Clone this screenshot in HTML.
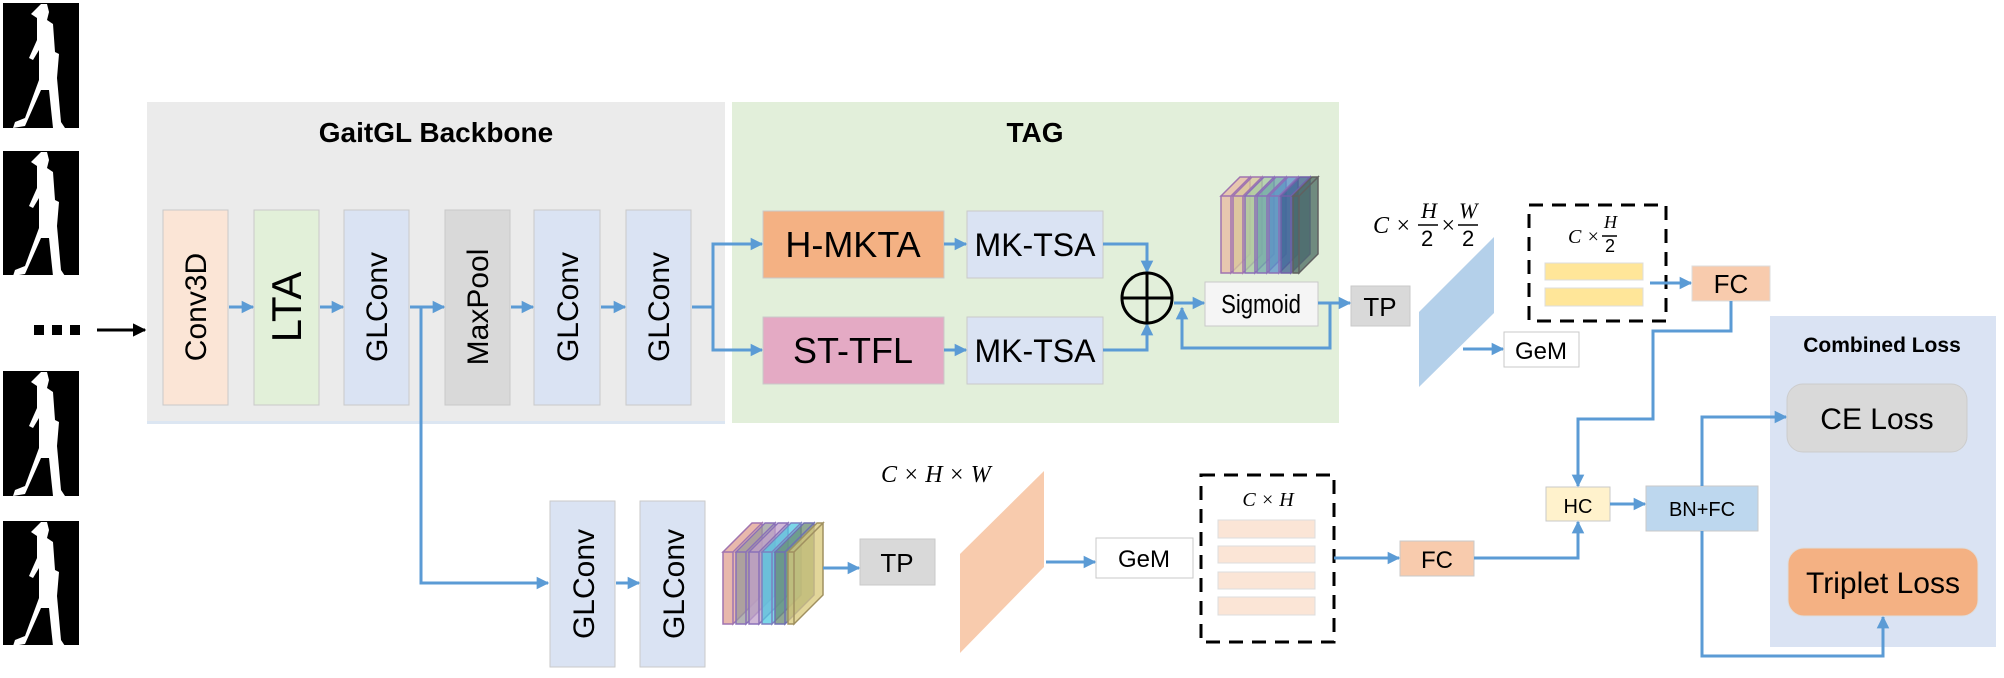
<!DOCTYPE html>
<html><head><meta charset="utf-8"><style>
html,body{margin:0;padding:0;background:#fff;}
svg{display:block;}
text{font-family:"Liberation Sans",sans-serif;fill:#000;}
.m{font-family:"Liberation Serif",serif;font-style:italic;}
</style></head><body>
<svg width="2004" height="678" viewBox="0 0 2004 678" xmlns="http://www.w3.org/2000/svg">
<defs>
<marker id="a" viewBox="0 0 10 10" refX="9" refY="5" markerWidth="4.2" markerHeight="4.2" orient="auto"><path d="M0,0L10,5L0,10z" fill="#5b9bd5"/></marker>
<marker id="k" viewBox="0 0 10 10" refX="9" refY="5" markerWidth="4.5" markerHeight="4.5" orient="auto"><path d="M0,0L10,5L0,10z" fill="#000"/></marker>
<g id="walker"><path d="M38,4 l6,0 2,8 -2,8 6,4 2,28 4,2 -2,24 4,44 4,6 -12,0 -4,-38 -8,0 -16,36 -12,2 2,-6 10,-4 14,-38 0,-30 -6,10 -4,-2 8,-18 0,-22 -6,-4 z" fill="#fff"/></g>
</defs>
<!-- silhouettes -->
<rect x="3" y="3" width="76" height="125" fill="#000"/>
<use href="#walker" x="3" y="0"/>
<rect x="3" y="151" width="76" height="124" fill="#000"/>
<use href="#walker" x="3" y="148"/>
<rect x="3" y="371" width="76" height="125" fill="#000"/>
<use href="#walker" x="3" y="368"/>
<rect x="3" y="521" width="76" height="124" fill="#000"/>
<use href="#walker" x="3" y="518"/>
<!-- input -->
<rect x="34" y="325" width="10" height="10" fill="#000"/><rect x="52" y="325" width="10" height="10" fill="#000"/><rect x="70" y="325" width="10" height="10" fill="#000"/>
<line x1="97" y1="330" x2="145" y2="330" stroke="#000" stroke-width="3" marker-end="url(#k)"/>

<!-- panels -->
<rect x="147" y="102" width="578" height="321" fill="#ebebeb"/>
<rect x="147" y="421" width="578" height="3" fill="#dce6f2"/>
<text x="436" y="142" font-size="28" font-weight="bold" text-anchor="middle">GaitGL Backbone</text>
<rect x="732" y="102" width="607" height="321" fill="#e2efda"/>
<text x="1035" y="142" font-size="28" font-weight="bold" text-anchor="middle">TAG</text>
<rect x="1770" y="316" width="226" height="331" fill="#dae3f3"/>
<text x="1882" y="352" font-size="21" font-weight="bold" text-anchor="middle">Combined Loss</text>

<!-- backbone blocks -->
<g stroke="#c9c9c9" stroke-width="1">
<rect x="163" y="210" width="65" height="195" fill="#fbe5d6"/>
<rect x="254" y="210" width="65" height="195" fill="#e2f0d9"/>
<rect x="344" y="210" width="65" height="195" fill="#dae3f3"/>
<rect x="445" y="210" width="65" height="195" fill="#d9d9d9"/>
<rect x="534" y="210" width="66" height="195" fill="#dae3f3"/>
<rect x="626" y="210" width="65" height="195" fill="#dae3f3"/>
</g>
<g font-size="30">
<text transform="translate(206,307) rotate(-90)" text-anchor="middle">Conv3D</text>
<text transform="translate(301,307) rotate(-90)" text-anchor="middle" font-size="42">LTA</text>
<text transform="translate(387,307) rotate(-90)" text-anchor="middle">GLConv</text>
<text transform="translate(488,307) rotate(-90)" text-anchor="middle">MaxPool</text>
<text transform="translate(578,307) rotate(-90)" text-anchor="middle">GLConv</text>
<text transform="translate(669,307) rotate(-90)" text-anchor="middle">GLConv</text>
</g>
<g stroke="#5b9bd5" stroke-width="3" fill="none" marker-end="url(#a)">
<line x1="229" y1="307" x2="253" y2="307"/>
<line x1="320" y1="307" x2="343" y2="307"/>
<line x1="410" y1="307" x2="444" y2="307"/>
<line x1="511" y1="307" x2="533" y2="307"/>
<line x1="601" y1="307" x2="625" y2="307"/>
<polyline points="692,307 713,307 713,244 762,244"/>
<polyline points="713,307 713,350 762,350"/>
<polyline points="421,307 421,583 548,583"/>
</g>

<!-- TAG -->
<g stroke="#c9c9c9" stroke-width="1">
<rect x="763" y="211" width="181" height="67" fill="#f4b183"/>
<rect x="763" y="317" width="181" height="67" fill="#e4aac4"/>
<rect x="967" y="211" width="136" height="67" fill="#dae3f3"/>
<rect x="967" y="317" width="136" height="67" fill="#dae3f3"/>
<rect x="1205" y="282" width="113" height="44" fill="#f5f5f5"/>
<rect x="1351" y="286" width="59" height="40" fill="#d9d9d9"/>
</g>
<text x="853" y="257" font-size="36" text-anchor="middle">H-MKTA</text>
<text x="853" y="363" font-size="36" text-anchor="middle">ST-TFL</text>
<text x="1035" y="256" font-size="32" text-anchor="middle">MK-TSA</text>
<text x="1035" y="362" font-size="32" text-anchor="middle">MK-TSA</text>
<text x="1261" y="313" font-size="26" text-anchor="middle" transform="translate(1261,0) scale(0.85,1) translate(-1261,0)">Sigmoid</text>
<text x="1380" y="316" font-size="26" text-anchor="middle">TP</text>
<g stroke="#5b9bd5" stroke-width="3" fill="none" marker-end="url(#a)">
<line x1="944" y1="244" x2="966" y2="244"/>
<line x1="944" y1="350" x2="966" y2="350"/>
<polyline points="1103,244 1147,244 1147,272"/>
<polyline points="1103,350 1147,350 1147,324"/>
<line x1="1174" y1="303" x2="1204" y2="303"/>
<line x1="1318" y1="303" x2="1350" y2="303"/>
<polyline points="1330,303 1330,348 1182,348 1182,308"/>
</g>
<circle cx="1147" cy="298" r="25" fill="none" stroke="#000" stroke-width="3"/>
<line x1="1122" y1="298" x2="1172" y2="298" stroke="#000" stroke-width="3"/>
<line x1="1147" y1="273" x2="1147" y2="323" stroke="#000" stroke-width="3"/>
<!-- cube stack top -->
<g stroke-width="1.5" fill-opacity="0.75">
<path d="M1221,196 l19,-19 h10 l-19,19z M1221,196 h10 v77 h-10z M1231,196 l19,-19 v77 l-19,19z" fill="#e8b9a0" stroke="#a074b0"/>
<path d="M1233,196 l19,-19 h10 l-19,19z M1233,196 h10 v77 h-10z M1243,196 l19,-19 v77 l-19,19z" fill="#d9c79a" stroke="#a074b0"/>
<path d="M1245,196 l19,-19 h10 l-19,19z M1245,196 h10 v77 h-10z M1255,196 l19,-19 v77 l-19,19z" fill="#a8c9a0" stroke="#8a70b8"/>
<path d="M1257,196 l19,-19 h10 l-19,19z M1257,196 h10 v77 h-10z M1267,196 l19,-19 v77 l-19,19z" fill="#6fa8a8" stroke="#8a70b8"/>
<path d="M1269,196 l19,-19 h10 l-19,19z M1269,196 h10 v77 h-10z M1279,196 l19,-19 v77 l-19,19z" fill="#5a90c8" stroke="#8a70b8"/>
<path d="M1281,196 l19,-19 h10 l-19,19z M1281,196 h10 v77 h-10z M1291,196 l19,-19 v77 l-19,19z" fill="#3d5f8f" stroke="#7060a8"/>
<path d="M1293,196 l19,-19 h6 l-19,19z M1293,196 h6 v77 h-6z M1299,196 l19,-19 v77 l-19,19z" fill="#4a6a60" stroke="#606060"/>
</g>

<!-- upper head -->
<polygon points="1419,312 1494,237 1494,313 1419,387" fill="#b4d0ea"/>
<text class="m" x="1373" y="233" font-size="24">C ×</text>
<text class="m" x="1421" y="218" font-size="22">H</text><line x1="1418" y1="225" x2="1438" y2="225" stroke="#000" stroke-width="1.5"/><text x="1421" y="246" font-size="22">2</text>
<text class="m" x="1440" y="233" font-size="24">×</text>
<text class="m" x="1459" y="218" font-size="22">W</text><line x1="1458" y1="225" x2="1478" y2="225" stroke="#000" stroke-width="1.5"/><text x="1462" y="246" font-size="22">2</text>
<line x1="1463" y1="349" x2="1503" y2="349" stroke="#5b9bd5" stroke-width="3" marker-end="url(#a)"/>
<rect x="1504" y="332" width="75" height="35" fill="#fff" stroke="#c9c9c9"/>
<text x="1541" y="359" font-size="24" text-anchor="middle">GeM</text>
<rect x="1529" y="205" width="137" height="116" fill="none" stroke="#000" stroke-width="3" stroke-dasharray="14,9"/>
<text class="m" x="1568" y="243" font-size="20">C ×</text>
<text class="m" x="1604" y="228" font-size="18">H</text><line x1="1602" y1="236" x2="1617" y2="236" stroke="#000" stroke-width="1.5"/><text x="1605" y="252" font-size="18">2</text>
<rect x="1545" y="263" width="98" height="17" fill="#ffe699" stroke="#ddd"/>
<rect x="1545" y="288" width="98" height="18" fill="#ffe699" stroke="#ddd"/>
<line x1="1650" y1="283" x2="1691" y2="283" stroke="#5b9bd5" stroke-width="3" marker-end="url(#a)"/>
<rect x="1692" y="266" width="78" height="35" fill="#f8cbad" stroke="#ddd"/>
<text x="1731" y="293" font-size="26" text-anchor="middle">FC</text>

<!-- lower branch -->
<g stroke="#c9c9c9" stroke-width="1">
<rect x="550" y="501" width="65" height="166" fill="#dae3f3"/>
<rect x="640" y="501" width="65" height="166" fill="#dae3f3"/>
<rect x="860" y="539" width="75" height="46" fill="#d9d9d9"/>
<rect x="1096" y="538" width="97" height="40" fill="#fff"/>
<rect x="1400" y="541" width="74" height="35" fill="#f8cbad"/>
<rect x="1546" y="487" width="64" height="34" fill="#fff2cc"/>
<rect x="1646" y="486" width="112" height="45" fill="#bdd7ee"/>
</g>
<text transform="translate(594,584) rotate(-90)" text-anchor="middle" font-size="30">GLConv</text>
<text transform="translate(684,584) rotate(-90)" text-anchor="middle" font-size="30">GLConv</text>
<text x="897" y="572" font-size="26" text-anchor="middle">TP</text>
<text x="1144" y="567" font-size="24" text-anchor="middle">GeM</text>
<text x="1437" y="568" font-size="24" text-anchor="middle">FC</text>
<text x="1578" y="513" font-size="20" text-anchor="middle">HC</text>
<text x="1702" y="516" font-size="20" text-anchor="middle">BN+FC</text>
<g stroke-width="1.5" fill-opacity="0.75">
<path d="M723,552 l29,-29 h10 l-29,29z M723,552 h10 v72 h-10z M733,552 l29,-29 v72 l-29,29z" fill="#e0a090" stroke="#a074b0"/>
<path d="M736,552 l29,-29 h10 l-29,29z M736,552 h10 v72 h-10z M746,552 l29,-29 v72 l-29,29z" fill="#9a9a9a" stroke="#8a70b8"/>
<path d="M749,552 l29,-29 h10 l-29,29z M749,552 h10 v72 h-10z M759,552 l29,-29 v72 l-29,29z" fill="#c0a0c8" stroke="#8a70b8"/>
<path d="M762,552 l29,-29 h10 l-29,29z M762,552 h10 v72 h-10z M772,552 l29,-29 v72 l-29,29z" fill="#50c8e0" stroke="#7a80c0"/>
<path d="M775,552 l29,-29 h10 l-29,29z M775,552 h10 v72 h-10z M785,552 l29,-29 v72 l-29,29z" fill="#6a8a70" stroke="#7070b0"/>
<path d="M788,552 l29,-29 h6 l-29,29z M788,552 h6 v72 h-6z M794,552 l29,-29 v72 l-29,29z" fill="#d8c878" stroke="#a09060"/>
</g>
<polygon points="960,554 1044,471 1044,567 960,653" fill="#f8cbad"/>
<text class="m" x="881" y="482" font-size="24">C × H × W</text>
<rect x="1201" y="475" width="133" height="167" fill="none" stroke="#000" stroke-width="3" stroke-dasharray="14,9"/>
<text class="m" x="1268" y="506" font-size="20" text-anchor="middle">C × H</text>
<g fill="#fbe5d6" stroke="#ddd">
<rect x="1218" y="520" width="97" height="18"/>
<rect x="1218" y="546" width="97" height="17"/>
<rect x="1218" y="572" width="97" height="17"/>
<rect x="1218" y="597" width="97" height="18"/>
</g>
<g stroke="#5b9bd5" stroke-width="3" fill="none" marker-end="url(#a)">
<line x1="616" y1="583" x2="639" y2="583"/>
<line x1="823" y1="568" x2="859" y2="568"/>
<line x1="1046" y1="562" x2="1095" y2="562"/>
<line x1="1334" y1="558" x2="1399" y2="558"/>
<polyline points="1474,558 1578,558 1578,522"/>
<polyline points="1731,301 1731,331 1653,331 1653,419 1578,419 1578,486"/>
<line x1="1610" y1="504" x2="1645" y2="504"/>
<polyline points="1702,486 1702,417 1786,417"/>
<polyline points="1702,531 1702,656 1883,656 1883,617"/>
</g>
<rect x="1787" y="384" width="180" height="68" rx="16" fill="#d9d9d9" stroke="#ccc"/>
<text x="1877" y="429" font-size="30" text-anchor="middle">CE Loss</text>
<rect x="1788" y="548" width="190" height="68" rx="16" fill="#f4b183" stroke="#ddd"/>
<text x="1883" y="593" font-size="30" text-anchor="middle">Triplet Loss</text>
</svg>
</body></html>
